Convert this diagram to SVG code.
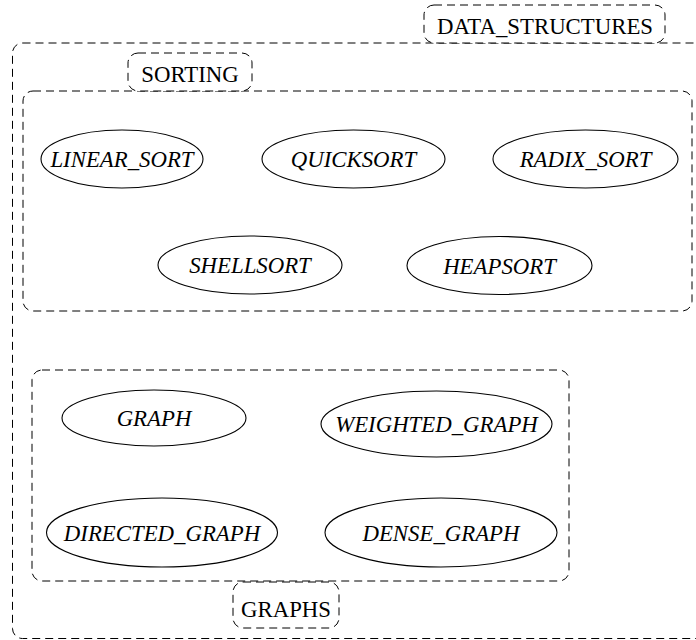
<svg xmlns="http://www.w3.org/2000/svg" width="696" height="640" viewBox="0 0 696 640">
<style>
.cl{fill:none;stroke:#000;stroke-width:1;stroke-dasharray:8,5}
.lb{fill:#fff;stroke:#000;stroke-width:1;stroke-dasharray:8,5}
.nd{fill:none;stroke:#000;stroke-width:1.1}
.lt{font-family:"Liberation Serif","Times New Roman",serif;font-size:22.8px;fill:#000;text-anchor:middle}
.nt{font-family:"Liberation Serif","Times New Roman",serif;font-size:22.8px;font-style:italic;fill:#000;text-anchor:middle}
</style>
<rect width="696" height="640" fill="#fff"/>
<g id="cluster_DATA_STRUCTURES">
<rect class="cl" x="12.5" y="43" width="720" height="595.5" rx="10"/>
<rect class="lb" x="424" y="5" width="241" height="38" rx="10"/>
<text class="lt" x="545" y="34">DATA_STRUCTURES</text>
</g>
<g id="cluster_SORTING">
<rect class="cl" x="23" y="91" width="669" height="220" rx="10"/>
<rect class="lb" x="128" y="53" width="124" height="38" rx="10"/>
<text class="lt" x="190" y="82">SORTING</text>
</g>
<g id="cluster_GRAPHS">
<rect class="cl" x="32" y="370" width="537" height="211" rx="10"/>
<rect class="lb" x="233" y="582" width="106" height="46" rx="10"/>
<text class="lt" x="286" y="617">GRAPHS</text>
</g>
<g id="connectors"></g>
<g id="LINEAR_SORT"><ellipse class="nd" cx="122" cy="159" rx="81" ry="29"/><text class="nt" x="122" y="167">LINEAR_SORT</text></g>
<g id="QUICKSORT"><ellipse class="nd" cx="353.5" cy="159" rx="91.5" ry="29"/><text class="nt" x="353.5" y="167">QUICKSORT</text></g>
<g id="RADIX_SORT"><ellipse class="nd" cx="585.5" cy="159" rx="92.5" ry="29"/><text class="nt" x="585.5" y="167">RADIX_SORT</text></g>
<g id="SHELLSORT"><ellipse class="nd" cx="250" cy="265" rx="92" ry="29"/><text class="nt" x="250" y="273">SHELLSORT</text></g>
<g id="HEAPSORT"><ellipse class="nd" cx="499.5" cy="265.5" rx="92.5" ry="29"/><text class="nt" x="499.5" y="273.5">HEAPSORT</text></g>
<g id="GRAPH"><ellipse class="nd" cx="154" cy="418" rx="92" ry="28"/><text class="nt" x="154" y="426">GRAPH</text></g>
<g id="WEIGHTED_GRAPH"><ellipse class="nd" cx="436.5" cy="424" rx="115.5" ry="33"/><text class="nt" x="436.5" y="432">WEIGHTED_GRAPH</text></g>
<g id="DIRECTED_GRAPH"><ellipse class="nd" cx="162" cy="532.5" rx="115.5" ry="34.5"/><text class="nt" x="162" y="541">DIRECTED_GRAPH</text></g>
<g id="DENSE_GRAPH"><ellipse class="nd" cx="441" cy="532.5" rx="116" ry="34.5"/><text class="nt" x="441" y="541">DENSE_GRAPH</text></g>
</svg>
